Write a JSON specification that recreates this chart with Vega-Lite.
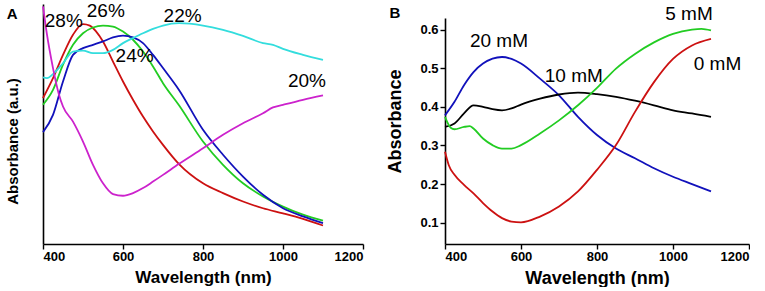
{
  "$schema": "https://vega.github.io/schema/vega-lite/v6.json",
  "padding": {"left": 5, "top": 2, "right": 0, "bottom": 0},
  "spacing": 22,
  "resolve": {"scale": {"color": "independent", "x": "independent", "y": "independent"}},
  "config": {
    "view": {"stroke": null},
    "font": "Liberation Sans",
    "axis": {
      "domainColor": "black", "domainWidth": 1.6, "tickColor": "black", "tickWidth": 1.4,
      "labelFont": "Liberation Sans", "labelFontWeight": "bold", "labelFontSize": 13, "labelColor": "black",
      "titleFont": "Liberation Sans", "titleFontWeight": "bold", "titleFontSize": 17, "titleColor": "black",
      "grid": false
    }
  },
  "datasets": {
    "A": [
      {"nm":400,"a":0.608,"s":"28%"},{"nm":425,"a":0.691,"s":"28%"},{"nm":450,"a":0.788,"s":"28%"},{"nm":475,"a":0.872,"s":"28%"},{"nm":500,"a":0.916,"s":"28%"},{"nm":517,"a":0.910,"s":"28%"},{"nm":533,"a":0.885,"s":"28%"},{"nm":550,"a":0.844,"s":"28%"},{"nm":575,"a":0.760,"s":"28%"},{"nm":600,"a":0.677,"s":"28%"},{"nm":625,"a":0.601,"s":"28%"},{"nm":650,"a":0.531,"s":"28%"},{"nm":675,"a":0.469,"s":"28%"},{"nm":700,"a":0.413,"s":"28%"},{"nm":740,"a":0.333,"s":"28%"},{"nm":800,"a":0.253,"s":"28%"},{"nm":850,"a":0.212,"s":"28%"},{"nm":900,"a":0.177,"s":"28%"},{"nm":950,"a":0.149,"s":"28%"},{"nm":1000,"a":0.128,"s":"28%"},{"nm":1050,"a":0.105,"s":"28%"},{"nm":1100,"a":0.077,"s":"28%"},
      {"nm":400,"a":0.580,"s":"26%"},{"nm":425,"a":0.642,"s":"26%"},{"nm":450,"a":0.747,"s":"26%"},{"nm":475,"a":0.830,"s":"26%"},{"nm":500,"a":0.878,"s":"26%"},{"nm":525,"a":0.902,"s":"26%"},{"nm":550,"a":0.910,"s":"26%"},{"nm":575,"a":0.906,"s":"26%"},{"nm":600,"a":0.885,"s":"26%"},{"nm":625,"a":0.851,"s":"26%"},{"nm":650,"a":0.802,"s":"26%"},{"nm":675,"a":0.740,"s":"26%"},{"nm":700,"a":0.670,"s":"26%"},{"nm":740,"a":0.578,"s":"26%"},{"nm":800,"a":0.427,"s":"26%"},{"nm":850,"a":0.330,"s":"26%"},{"nm":900,"a":0.253,"s":"26%"},{"nm":950,"a":0.198,"s":"26%"},{"nm":1000,"a":0.156,"s":"26%"},{"nm":1050,"a":0.122,"s":"26%"},{"nm":1100,"a":0.097,"s":"26%"},
      {"nm":400,"a":0.466,"s":"24%"},{"nm":425,"a":0.538,"s":"24%"},{"nm":450,"a":0.677,"s":"24%"},{"nm":475,"a":0.788,"s":"24%"},{"nm":500,"a":0.816,"s":"24%"},{"nm":525,"a":0.830,"s":"24%"},{"nm":550,"a":0.844,"s":"24%"},{"nm":575,"a":0.861,"s":"24%"},{"nm":600,"a":0.868,"s":"24%"},{"nm":625,"a":0.861,"s":"24%"},{"nm":650,"a":0.837,"s":"24%"},{"nm":675,"a":0.788,"s":"24%"},{"nm":700,"a":0.733,"s":"24%"},{"nm":740,"a":0.642,"s":"24%"},{"nm":800,"a":0.476,"s":"24%"},{"nm":850,"a":0.372,"s":"24%"},{"nm":900,"a":0.281,"s":"24%"},{"nm":950,"a":0.205,"s":"24%"},{"nm":1000,"a":0.149,"s":"24%"},{"nm":1050,"a":0.115,"s":"24%"},{"nm":1100,"a":0.087,"s":"24%"},
      {"nm":400,"a":0.694,"s":"22%"},{"nm":410,"a":0.691,"s":"22%"},{"nm":425,"a":0.708,"s":"22%"},{"nm":450,"a":0.753,"s":"22%"},{"nm":475,"a":0.802,"s":"22%"},{"nm":500,"a":0.806,"s":"22%"},{"nm":525,"a":0.795,"s":"22%"},{"nm":550,"a":0.795,"s":"22%"},{"nm":575,"a":0.809,"s":"22%"},{"nm":600,"a":0.837,"s":"22%"},{"nm":625,"a":0.858,"s":"22%"},{"nm":650,"a":0.878,"s":"22%"},{"nm":675,"a":0.896,"s":"22%"},{"nm":700,"a":0.910,"s":"22%"},{"nm":740,"a":0.920,"s":"22%"},{"nm":800,"a":0.910,"s":"22%"},{"nm":850,"a":0.892,"s":"22%"},{"nm":900,"a":0.867,"s":"22%"},{"nm":950,"a":0.837,"s":"22%"},{"nm":975,"a":0.830,"s":"22%"},{"nm":1000,"a":0.813,"s":"22%"},{"nm":1050,"a":0.788,"s":"22%"},{"nm":1100,"a":0.767,"s":"22%"},
      {"nm":400,"a":0.990,"s":"20%"},{"nm":410,"a":0.872,"s":"20%"},{"nm":425,"a":0.733,"s":"20%"},{"nm":440,"a":0.622,"s":"20%"},{"nm":450,"a":0.573,"s":"20%"},{"nm":475,"a":0.510,"s":"20%"},{"nm":500,"a":0.427,"s":"20%"},{"nm":525,"a":0.330,"s":"20%"},{"nm":550,"a":0.253,"s":"20%"},{"nm":575,"a":0.208,"s":"20%"},{"nm":600,"a":0.201,"s":"20%"},{"nm":625,"a":0.212,"s":"20%"},{"nm":650,"a":0.233,"s":"20%"},{"nm":675,"a":0.260,"s":"20%"},{"nm":700,"a":0.288,"s":"20%"},{"nm":740,"a":0.334,"s":"20%"},{"nm":800,"a":0.399,"s":"20%"},{"nm":850,"a":0.455,"s":"20%"},{"nm":900,"a":0.503,"s":"20%"},{"nm":950,"a":0.545,"s":"20%"},{"nm":975,"a":0.569,"s":"20%"},{"nm":1000,"a":0.580,"s":"20%"},{"nm":1050,"a":0.601,"s":"20%"},{"nm":1100,"a":0.619,"s":"20%"}
    ],
    "labA": [
      {"nm":452,"a":0.929,"t":"28%"},{"nm":557,"a":0.969,"t":"26%"},{"nm":629,"a":0.783,"t":"24%"},{"nm":749,"a":0.950,"t":"22%"},{"nm":1060,"a":0.679,"t":"20%"}
    ],
    "B": [
      {"nm":400,"v":0.378,"s":"20 mM"},{"nm":425,"v":0.413,"s":"20 mM"},{"nm":450,"v":0.456,"s":"20 mM"},{"nm":475,"v":0.490,"s":"20 mM"},{"nm":500,"v":0.512,"s":"20 mM"},{"nm":550,"v":0.529,"s":"20 mM"},{"nm":575,"v":0.524,"s":"20 mM"},{"nm":600,"v":0.512,"s":"20 mM"},{"nm":650,"v":0.473,"s":"20 mM"},{"nm":700,"v":0.430,"s":"20 mM"},{"nm":750,"v":0.374,"s":"20 mM"},{"nm":800,"v":0.327,"s":"20 mM"},{"nm":850,"v":0.292,"s":"20 mM"},{"nm":900,"v":0.267,"s":"20 mM"},{"nm":950,"v":0.241,"s":"20 mM"},{"nm":1000,"v":0.219,"s":"20 mM"},{"nm":1050,"v":0.200,"s":"20 mM"},{"nm":1100,"v":0.181,"s":"20 mM"},
      {"nm":400,"v":0.348,"s":"10 mM"},{"nm":425,"v":0.357,"s":"10 mM"},{"nm":450,"v":0.383,"s":"10 mM"},{"nm":475,"v":0.404,"s":"10 mM"},{"nm":500,"v":0.400,"s":"10 mM"},{"nm":525,"v":0.394,"s":"10 mM"},{"nm":550,"v":0.391,"s":"10 mM"},{"nm":575,"v":0.396,"s":"10 mM"},{"nm":600,"v":0.406,"s":"10 mM"},{"nm":650,"v":0.421,"s":"10 mM"},{"nm":700,"v":0.432,"s":"10 mM"},{"nm":750,"v":0.437,"s":"10 mM"},{"nm":800,"v":0.433,"s":"10 mM"},{"nm":850,"v":0.426,"s":"10 mM"},{"nm":900,"v":0.416,"s":"10 mM"},{"nm":950,"v":0.404,"s":"10 mM"},{"nm":1000,"v":0.391,"s":"10 mM"},{"nm":1050,"v":0.383,"s":"10 mM"},{"nm":1100,"v":0.374,"s":"10 mM"},
      {"nm":400,"v":0.374,"s":"5 mM"},{"nm":415,"v":0.346,"s":"5 mM"},{"nm":425,"v":0.342,"s":"5 mM"},{"nm":450,"v":0.348,"s":"5 mM"},{"nm":465,"v":0.350,"s":"5 mM"},{"nm":475,"v":0.344,"s":"5 mM"},{"nm":500,"v":0.318,"s":"5 mM"},{"nm":525,"v":0.301,"s":"5 mM"},{"nm":550,"v":0.292,"s":"5 mM"},{"nm":575,"v":0.292,"s":"5 mM"},{"nm":600,"v":0.301,"s":"5 mM"},{"nm":650,"v":0.331,"s":"5 mM"},{"nm":700,"v":0.365,"s":"5 mM"},{"nm":750,"v":0.404,"s":"5 mM"},{"nm":800,"v":0.449,"s":"5 mM"},{"nm":850,"v":0.499,"s":"5 mM"},{"nm":900,"v":0.537,"s":"5 mM"},{"nm":950,"v":0.567,"s":"5 mM"},{"nm":1000,"v":0.589,"s":"5 mM"},{"nm":1050,"v":0.600,"s":"5 mM"},{"nm":1075,"v":0.602,"s":"5 mM"},{"nm":1100,"v":0.598,"s":"5 mM"},
      {"nm":400,"v":0.284,"s":"0 mM"},{"nm":410,"v":0.249,"s":"0 mM"},{"nm":425,"v":0.224,"s":"0 mM"},{"nm":450,"v":0.198,"s":"0 mM"},{"nm":475,"v":0.176,"s":"0 mM"},{"nm":500,"v":0.151,"s":"0 mM"},{"nm":525,"v":0.129,"s":"0 mM"},{"nm":550,"v":0.112,"s":"0 mM"},{"nm":575,"v":0.103,"s":"0 mM"},{"nm":600,"v":0.101,"s":"0 mM"},{"nm":650,"v":0.116,"s":"0 mM"},{"nm":700,"v":0.142,"s":"0 mM"},{"nm":750,"v":0.181,"s":"0 mM"},{"nm":800,"v":0.237,"s":"0 mM"},{"nm":850,"v":0.301,"s":"0 mM"},{"nm":900,"v":0.387,"s":"0 mM"},{"nm":950,"v":0.464,"s":"0 mM"},{"nm":1000,"v":0.524,"s":"0 mM"},{"nm":1050,"v":0.559,"s":"0 mM"},{"nm":1100,"v":0.576,"s":"0 mM"}
    ],
    "labB": [
      {"nm":542,"v":0.570,"t":"20 mM"},{"nm":739,"v":0.480,"t":"10 mM"},{"nm":1042,"v":0.640,"t":"5 mM"},{"nm":1117,"v":0.511,"t":"0 mM"}
    ],
    "panA": [{"nm":323,"a":0.96,"t":"A"}],
    "panB": [{"nm":268,"v":0.642,"t":"B"}]
  },
  "hconcat": [
    {
      "width": 320,
      "height": 240,
      "layer": [
        {
          "data": {"name": "A"},
          "mark": {"type": "line", "strokeWidth": 1.8, "interpolate": "monotone"},
          "encoding": {
            "x": {"field": "nm", "type": "quantitative",
              "scale": {"domain": [400, 1200], "nice": false, "zero": false},
              "axis": {"title": "Wavelength (nm)", "values": [400,500,600,700,800,900,1000,1100,1200], "format": "d",
                "labelExpr": "datum.value % 200 == 0 ? datum.label : ''",
                "tickSize": {"condition": {"test": "datum.value % 200 != 0", "value": 3}, "value": 5},
                "labelPadding": 1, "titlePadding": 6}},
            "y": {"field": "a", "type": "quantitative",
              "scale": {"domain": [0, 1], "nice": false, "zero": false},
              "axis": {"title": "Absorbance (a.u.)", "ticks": false, "labels": false, "titleFontSize": 15, "titlePadding": 23, "titleY": 137}},
            "color": {"field": "s", "type": "nominal", "legend": null,
              "scale": {"domain": ["28%","26%","24%","22%","20%"], "range": ["#cc1111","#22cc22","#1111bb","#33dddd","#cc22cc"]}}
          }
        },
        {
          "data": {"name": "labA"},
          "mark": {"type": "text", "fontSize": 19, "font": "Liberation Sans", "color": "black", "align": "center", "baseline": "middle"},
          "encoding": {
            "x": {"field": "nm", "type": "quantitative"},
            "y": {"field": "a", "type": "quantitative"},
            "text": {"field": "t"}
          }
        },
        {
          "data": {"name": "panA"},
          "mark": {"type": "text", "fontSize": 15, "fontWeight": "bold", "font": "Liberation Sans", "color": "black", "align": "center", "baseline": "middle"},
          "encoding": {
            "x": {"field": "nm", "type": "quantitative"},
            "y": {"field": "a", "type": "quantitative"},
            "text": {"field": "t"}
          }
        }
      ]
    },
    {
      "width": 304,
      "height": 240,
      "layer": [
        {
          "data": {"name": "B"},
          "mark": {"type": "line", "strokeWidth": 1.8, "interpolate": "monotone"},
          "encoding": {
            "x": {"field": "nm", "type": "quantitative",
              "scale": {"domain": [400, 1200], "nice": false, "zero": false},
              "axis": {"title": "Wavelength (nm)", "values": [400,500,600,700,800,900,1000,1100,1200], "format": "d",
                "labelExpr": "datum.value % 200 == 0 ? datum.label : ''",
                "tickSize": {"condition": {"test": "datum.value % 200 != 0", "value": 3}, "value": 5},
                "labelPadding": 1, "titlePadding": 6, "titleFontSize": 18}},
            "y": {"field": "v", "type": "quantitative",
              "scale": {"domain": [0.045, 0.63], "range": [240, 14], "nice": false, "zero": false},
              "axis": {"title": "Absorbance", "values": [0.1,0.15,0.2,0.25,0.3,0.35,0.4,0.45,0.5,0.55,0.6],
                "labelExpr": "round(datum.value*100) % 10 == 0 ? format(datum.value, '.1f') : ''",
                "tickSize": {"condition": {"test": "round(datum.value*100) % 10 != 0", "value": 3}, "value": 5},
                "labelPadding": 2, "titlePadding": 15, "titleFontSize": 18, "titleY": 117}},
            "color": {"field": "s", "type": "nominal", "legend": null,
              "scale": {"domain": ["0 mM","5 mM","10 mM","20 mM"], "range": ["#cc1111","#22cc22","#000000","#1111bb"]}}
          }
        },
        {
          "data": {"name": "labB"},
          "mark": {"type": "text", "fontSize": 19, "font": "Liberation Sans", "color": "black", "align": "center", "baseline": "middle"},
          "encoding": {
            "x": {"field": "nm", "type": "quantitative"},
            "y": {"field": "v", "type": "quantitative"},
            "text": {"field": "t"}
          }
        },
        {
          "data": {"name": "panB"},
          "mark": {"type": "text", "fontSize": 15, "fontWeight": "bold", "font": "Liberation Sans", "color": "black", "align": "center", "baseline": "middle"},
          "encoding": {
            "x": {"field": "nm", "type": "quantitative"},
            "y": {"field": "v", "type": "quantitative"},
            "text": {"field": "t"}
          }
        }
      ]
    }
  ]
}
